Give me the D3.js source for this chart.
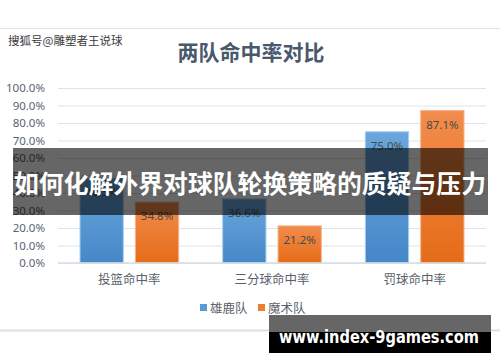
<!DOCTYPE html>
<html>
<head>
<meta charset="utf-8">
<script src="https://cdn.jsdelivr.net/npm/d3@7"></script>
<style>
  body { margin: 0; background: #fff; }
  svg { display: block; font-family: "Noto Sans CJK SC", "Noto Sans", sans-serif; }
</style>
</head>
<body>
<div id="chart"></div>
<script>
const width = 500, height = 362;

// data
const categories = ["投篮命中率", "三分球命中率", "罚球命中率"];
const teams = ["雄鹿队", "魔术队"];
const bucks = [0.485, 0.366, 0.750];
const magic = [0.348, 0.212, 0.871];
const yTicks = [0, 0.1, 0.2, 0.3, 0.4, 0.5, 0.6, 0.7, 0.8, 0.9, 1.0];
const colors = ["#5b9bd5", "#ed7d31"];

const rows = categories.map((c, i) => ({cat: c, values: [bucks[i], magic[i]]}));

const svg = d3.select("#chart").append("svg")
    .attr("width", width)
    .attr("height", height);

// gradients for the bars
const defs = svg.append("defs");
[["g0", "#6aa6dc", "#4588c8"], ["g1", "#f28c4c", "#e56c18"]].forEach(g => {
    let lg = defs.append("linearGradient").attr("id", g[0])
        .attr("x1", 0).attr("y1", 0).attr("x2", 0).attr("y2", 1);
    lg.append("stop").attr("offset", "0%").attr("stop-color", g[1]);
    lg.append("stop").attr("offset", "100%").attr("stop-color", g[2]);
});

// frame lines of the picture
svg.append("line").attr("x1", 0).attr("x2", width).attr("y1", 28.5).attr("y2", 28.5)
    .attr("stroke", "#dde3ea");
svg.append("line").attr("x1", 0).attr("x2", width).attr("y1", 330.5).attr("y2", 330.5)
    .attr("stroke", "#dcdfe4").attr("stroke-width", 2);

// title
svg.append("text")
    .attr("x", 251).attr("y", 60)
    .attr("text-anchor", "middle")
    .attr("font-size", 21)
    .attr("font-weight", "bold")
    .attr("fill", "#4a586c")
    .text("两队命中率对比");

let x0 = d3.scaleBand().domain(categories).range([58, 486]);
let x1 = d3.scaleBand().domain(teams).range([22, x0.bandwidth() - 22]).paddingInner(0.218);
let y = d3.scaleLinear().domain([0, 1]).range([263, 88]);

// y axis
let yAxis = svg.append("g")
    .attr("transform", "translate(58,0)")
    .call(d3.axisLeft(y).tickValues(yTicks).tickFormat(d3.format(".1%")).tickSize(-428).tickPadding(13));
yAxis.select(".domain").remove();
yAxis.selectAll(".tick line").attr("stroke", "#dfe4ec").attr("stroke-width", 1.2);
yAxis.selectAll(".tick text")
    .attr("font-size", 11.5)
    .attr("fill", "#5a6373")
    .attr("font-family", "'Noto Sans', sans-serif");

// bars
let groups = svg.append("g").selectAll("g")
    .data(rows)
    .enter().append("g")
    .attr("transform", d => `translate(${x0(d.cat)},0)`);

groups.selectAll("rect")
    .data(d => d.values.map((v, i) => ({team: teams[i], v: v, i: i})))
    .enter().append("rect")
    .attr("x", d => x1(d.team))
    .attr("y", d => y(d.v))
    .attr("width", x1.bandwidth())
    .attr("height", d => y(0) - y(d.v))
    .attr("fill", d => `url(#g${d.i})`)
    .attr("stroke", d => d.i === 0 ? "#a9cdee" : "#f6b48a")
    .attr("stroke-width", 1);

groups.selectAll("text")
    .data(d => d.values.map((v, i) => ({team: teams[i], v: v})))
    .enter().append("text")
    .attr("x", d => x1(d.team) + x1.bandwidth() / 2)
    .attr("y", d => y(d.v) + 18)
    .attr("text-anchor", "middle")
    .attr("font-size", 11.5)
    .attr("fill", "#4a4a4a")
    .attr("font-family", "'Noto Sans', sans-serif")
    .text(d => d3.format(".1%")(d.v));

// x axis baseline + labels
svg.append("line").attr("x1", 58).attr("x2", 486).attr("y1", y(0)).attr("y2", y(0))
    .attr("stroke", "#d6dce5").attr("stroke-width", 1.5);
svg.append("g").selectAll("text")
    .data(categories)
    .enter().append("text")
    .attr("x", d => x0(d) + x0.bandwidth() / 2)
    .attr("y", 284)
    .attr("text-anchor", "middle")
    .attr("font-size", 12.5)
    .attr("fill", "#595f6b")
    .text(d => d);

// legend
let legend = svg.append("g").selectAll("g")
    .data(teams)
    .enter().append("g")
    .attr("transform", (d, i) => `translate(${200 + i * 58},0)`);
legend.append("rect")
    .attr("x", 0).attr("y", 304)
    .attr("width", 7).attr("height", 7)
    .attr("fill", (d, i) => colors[i]);
legend.append("text")
    .attr("x", 10).attr("y", 313)
    .attr("font-size", 12.5)
    .attr("fill", "#595f6b")
    .text(d => d);

// watermark
svg.append("text")
    .attr("x", 8).attr("y", 45)
    .attr("font-size", 11.5)
    .attr("fill", "#3a3a3a")
    .attr("stroke", "#fff").attr("stroke-width", 0.6)
    .attr("paint-order", "stroke")
    .text("搜狐号@雕塑者王说球");

// headline banner across the chart
svg.append("rect")
    .attr("x", 13).attr("y", 148)
    .attr("width", 475).attr("height", 67)
    .attr("fill", "rgba(0,0,0,0.6)");
svg.append("text")
    .attr("x", 250).attr("y", 193)
    .attr("text-anchor", "middle")
    .attr("font-size", 25)
    .attr("font-weight", "bold")
    .attr("fill", "#fff")
    .attr("textLength", 472)
    .attr("lengthAdjust", "spacingAndGlyphs")
    .text("如何化解外界对球队轮换策略的质疑与压力");

// site banner at the bottom
svg.append("rect").attr("x", 269).attr("y", 315).attr("width", 222).attr("height", 17)
    .attr("fill", "#666");
svg.append("rect").attr("x", 269).attr("y", 332).attr("width", 222).attr("height", 21)
    .attr("fill", "#000");
svg.append("text")
    .attr("x", 279).attr("y", 343)
    .attr("font-size", 18)
    .attr("font-weight", "bold")
    .attr("fill", "#fff")
    .attr("font-family", "'DejaVu Sans', sans-serif")
    .attr("textLength", 200)
    .attr("lengthAdjust", "spacingAndGlyphs")
    .text("www.index-9games.com");
</script>
</body>
</html>
